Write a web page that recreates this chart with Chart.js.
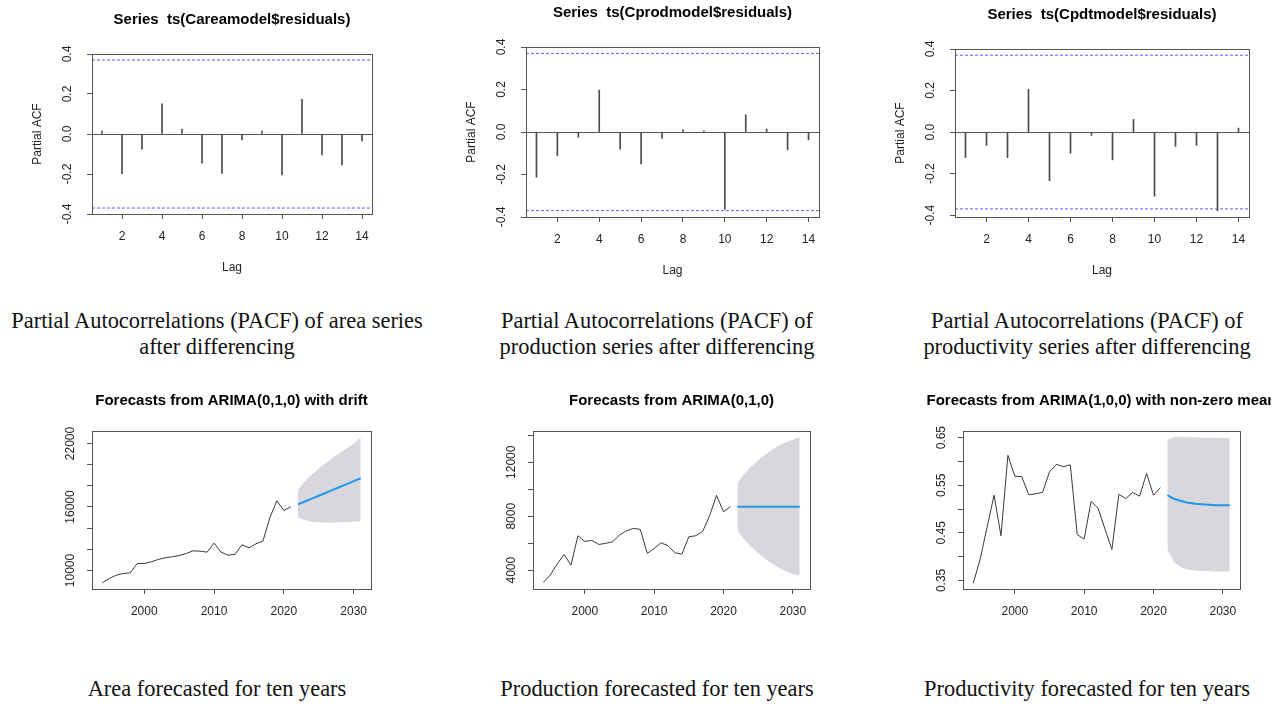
<!DOCTYPE html>
<html>
<head>
<meta charset="utf-8">
<script src="https://cdn.jsdelivr.net/npm/chart.js@4/dist/chart.umd.min.js"></script>
<style>
  html, body { margin: 0; padding: 0; background: #fff; width: 1281px; height: 706px; overflow: hidden; }
  canvas { position: absolute; }
  .cap { position: absolute; width: 430px; text-align: center; font-family: "Liberation Serif", serif;
         font-size: 22.4px; line-height: 26px; color: #111; white-space: nowrap; }
</style>
</head>
<body>
<canvas id="c1" width="430" height="290" style="left:0;top:0"></canvas>
<canvas id="c2" width="430" height="290" style="left:430px;top:0"></canvas>
<canvas id="c3" width="421" height="290" style="left:860px;top:0"></canvas>
<canvas id="c4" width="430" height="260" style="left:0;top:380px"></canvas>
<canvas id="c5" width="430" height="260" style="left:430px;top:380px"></canvas>
<canvas id="c6" width="411" height="260" style="left:860px;top:380px"></canvas>

<div class="cap" style="left:2px;top:308px">Partial Autocorrelations (PACF) of area series<br>after differencing</div>
<div class="cap" style="left:442px;top:308px">Partial Autocorrelations (PACF) of<br>production series after differencing</div>
<div class="cap" style="left:872px;top:308px">Partial Autocorrelations (PACF) of<br>productivity series after differencing</div>
<div class="cap" style="left:2px;top:676px">Area forecasted for ten years</div>
<div class="cap" style="left:442px;top:676px">Production forecasted for ten years</div>
<div class="cap" style="left:872px;top:676px">Productivity forecasted for ten years</div>

<script>
// lags and PACF values
const lags = [1, 2, 3, 4, 5, 6, 7, 8, 9, 10, 11, 12, 13, 14];
const pacfArea = [0.015, -0.198, -0.076, 0.151, 0.024, -0.146, -0.197, -0.030, 0.015, -0.205, 0.173, -0.104, -0.155, -0.034];
const pacfProd = [-0.213, -0.111, -0.025, 0.197, -0.080, -0.150, -0.030, 0.010, 0.005, -0.364, 0.081, 0.014, -0.084, -0.037];
const pacfPdt = [-0.123, -0.064, -0.123, 0.206, -0.234, -0.102, -0.016, -0.134, 0.061, -0.309, -0.069, -0.064, -0.379, 0.019];
const pacfBound = 0.370;
const lagTicks = [2, 4, 6, 8, 10, 12, 14];
const pacfTicks = [-0.4, -0.2, 0, 0.2, 0.4];

// observed series and ten-year forecasts
const histYears = [1994, 1995, 1996, 1997, 1998, 1999, 2000, 2001, 2002, 2003, 2004, 2005, 2006, 2007,
                   2008, 2009, 2010, 2011, 2012, 2013, 2014, 2015, 2016, 2017, 2018, 2019, 2020, 2021];
const fcYears = [2022, 2023, 2024, 2025, 2026, 2027, 2028, 2029, 2030, 2031];
const yearTicks = [2000, 2010, 2020, 2030];

const area = [8835, 9244, 9559, 9717, 9780, 10661, 10661, 10819, 11039, 11197, 11291, 11417, 11606, 11858,
              11827, 11732, 12583, 11732, 11449, 11512, 12425, 12142, 12520, 12772, 15008, 16583, 15669, 16016];
const areaMean = [16240, 16515, 16790, 17065, 17340, 17615, 17890, 18165, 18440, 18715];
const areaHi = [17590, 18420, 19080, 19640, 20150, 20640, 21100, 21550, 22000, 22600];
const areaLo = [15000, 14760, 14610, 14560, 14530, 14530, 14550, 14570, 14610, 14660];
const areaTicks = [10000, 12000, 14000, 16000, 18000, 20000, 22000];
const areaLabels = [10000, 16000, 22000];

const prod = [3084, 3628, 4446, 5164, 4372, 6551, 6130, 6204, 5907, 5981, 6105, 6601, 6923, 7096,
              7022, 5238, 5610, 6031, 5808, 5288, 5189, 6477, 6551, 6873, 8037, 9548, 8334, 8706];
const prodMean = [8706, 8706, 8706, 8706, 8706, 8706, 8706, 8706, 8706, 8706];
const prodHi = [10440, 11150, 11680, 12150, 12560, 12920, 13250, 13480, 13680, 13860];
const prodLo = [6970, 6260, 5730, 5260, 4850, 4490, 4160, 3930, 3730, 3570];
const prodTicks = [4000, 6000, 8000, 10000, 12000, 14000];
const prodLabels = [4000, 8000, 12000];

const pdt = [0.344, 0.395, 0.462, 0.529, 0.444, 0.613, 0.569, 0.568, 0.530, 0.532, 0.535, 0.578, 0.594, 0.589,
             0.593, 0.446, 0.437, 0.516, 0.502, 0.458, 0.415, 0.531, 0.522, 0.535, 0.527, 0.575, 0.529, 0.545];
const pdtMean = [0.529, 0.521, 0.517, 0.513, 0.511, 0.510, 0.509, 0.508, 0.508, 0.508];
const pdtHi = [0.645, 0.652, 0.652, 0.651, 0.651, 0.650, 0.650, 0.650, 0.649, 0.649];
const pdtLo = [0.415, 0.388, 0.377, 0.373, 0.371, 0.370, 0.370, 0.369, 0.369, 0.369];
const pdtTicks = [0.35, 0.40, 0.45, 0.50, 0.55, 0.60, 0.65];
const pdtLabels = [0.35, 0.45, 0.55, 0.65];

const FONT = '"Liberation Sans", Arial, sans-serif';
const AXIS = '#555';
const BLUE = '#2297E6';
const SHADE = '#D7D7DD';

Chart.defaults.font.family = FONT;
Chart.defaults.color = '#222';

// base-R look: box round the plot, bold title, rotated y labels, axis titles
const rStyle = {
  id: 'rStyle',
  afterDraw(chart, args, o) {
    const { ctx, chartArea: a } = chart;
    const ys = chart.scales.y;
    ctx.save();
    ctx.strokeStyle = AXIS;
    ctx.lineWidth = 1;
    ctx.strokeRect(Math.round(a.left) + 0.5, Math.round(a.top) + 0.5,
                   Math.round(a.right - a.left), Math.round(a.bottom - a.top));
    ctx.textAlign = 'center';
    ctx.textBaseline = 'middle';
    ctx.fillStyle = '#000';
    ctx.font = 'bold ' + o.titleSize + 'px ' + FONT;
    ctx.fillText(o.title, (a.left + a.right) / 2, a.top - o.titleGap);
    ctx.fillStyle = '#222';
    ctx.font = '12px ' + FONT;
    o.yLabels.forEach(v => {
      ctx.save();
      ctx.translate(a.left - o.yGap, ys.getPixelForValue(v));
      ctx.rotate(-Math.PI / 2);
      ctx.fillText(v.toFixed(o.digits), 0, 0);
      ctx.restore();
    });
    if (o.yTitle) {
      ctx.save();
      ctx.translate(a.left - 54, (a.top + a.bottom) / 2);
      ctx.rotate(-Math.PI / 2);
      ctx.fillText(o.yTitle, 0, 0);
      ctx.restore();
    }
    if (o.xTitle) ctx.fillText(o.xTitle, (a.left + a.right) / 2, a.bottom + 54);
    ctx.restore();
  }
};

function axes(box, w, h, xHeight, x, y) {
  return {
    layout: { padding: { left: box.l - 40, right: w - box.r, top: box.t, bottom: h - box.b - xHeight } },
    scales: {
      x: {
        type: 'linear', min: x.min, max: x.max, offset: false,
        afterBuildTicks: s => { s.ticks = x.ticks.map(v => ({ value: v })); },
        afterFit: s => { s.height = xHeight; },
        border: { display: false },
        grid: { drawOnChartArea: false, offset: false, tickLength: 5, tickColor: AXIS },
        ticks: { padding: 10, font: { size: 12 }, maxRotation: 0, autoSkip: false, callback: v => String(v) }
      },
      y: {
        min: y.min, max: y.max,
        afterBuildTicks: s => { s.ticks = y.ticks.map(v => ({ value: v })); },
        afterFit: s => { s.width = 40; },
        border: { display: false },
        grid: {
          drawOnChartArea: !!y.zero, tickLength: 5, tickColor: AXIS,
          color: c => (c.tick && c.tick.value === 0) ? AXIS : 'rgba(0,0,0,0)'
        },
        ticks: { display: false }
      }
    }
  };
}

function pacfChart(id, title, values, box, w, yMin, yMax) {
  const base = axes(box, w, 290, 60, { min: 0.5, max: 14.5, ticks: lagTicks },
                    { min: yMin, max: yMax, ticks: pacfTicks, zero: true });
  new Chart(document.getElementById(id), {
    type: 'bar',
    data: {
      datasets: [
        { type: 'bar', data: lags.map((l, i) => ({ x: l, y: values[i] })),
          backgroundColor: '#4a4a4a', barThickness: 1, borderWidth: 0 },
        { type: 'line', data: [{ x: 0.5, y: pacfBound }, { x: 14.5, y: pacfBound }],
          borderColor: '#5a5af5', borderWidth: 1, borderDash: [3, 2], pointRadius: 0 },
        { type: 'line', data: [{ x: 0.5, y: -pacfBound }, { x: 14.5, y: -pacfBound }],
          borderColor: '#5a5af5', borderWidth: 1, borderDash: [3, 2], pointRadius: 0 }
      ]
    },
    options: Object.assign(base, {
      responsive: false, animation: false,
      plugins: {
        legend: { display: false }, tooltip: { enabled: false },
        rStyle: { title: title, titleSize: 15, titleGap: 34, yLabels: pacfTicks, digits: 1, yGap: 24,
                  yTitle: 'Partial ACF', xTitle: 'Lag' }
      }
    }),
    plugins: [rStyle]
  });
}

function forecastChart(id, title, hist, mean, lo, hi, box, w, yMin, yMax, yTicks, yLabels, digits) {
  const base = axes(box, w, 260, 40, { min: 1992.52, max: 2032.48, ticks: yearTicks },
                    { min: yMin, max: yMax, ticks: yTicks, zero: false });
  const pts = (xs, ys) => xs.map((x, i) => ({ x: x, y: ys[i] }));
  new Chart(document.getElementById(id), {
    type: 'line',
    data: {
      datasets: [
        { data: pts(fcYears, mean), borderColor: BLUE, borderWidth: 2, order: 1 },
        { data: pts(histYears, hist), borderColor: '#3a3a3a', borderWidth: 1, order: 2 },
        { data: pts(fcYears, lo), borderWidth: 0, borderColor: 'rgba(0,0,0,0)', order: 3 },
        { data: pts(fcYears, hi), borderWidth: 0, borderColor: 'rgba(0,0,0,0)', order: 3,
          fill: '-1', backgroundColor: SHADE }
      ]
    },
    options: Object.assign(base, {
      responsive: false, animation: false,
      elements: { point: { radius: 0 }, line: { tension: 0 } },
      plugins: {
        legend: { display: false }, tooltip: { enabled: false },
        rStyle: { title: title, titleSize: 15, titleGap: 30, yLabels: yLabels, digits: digits, yGap: 21 }
      }
    }),
    plugins: [rStyle]
  });
}

pacfChart('c1', 'Series  ts(Careamodel$residuals)', pacfArea, { l: 92, r: 372, t: 54, b: 214 }, 430, -0.4, 0.4);
pacfChart('c2', 'Series  ts(Cprodmodel$residuals)', pacfProd, { l: 96, r: 389, t: 47, b: 217 }, 430, -0.4, 0.4);
pacfChart('c3', 'Series  ts(Cpdtmodel$residuals)', pacfPdt, { l: 95, r: 389, t: 49, b: 217 }, 421, -0.409, 0.4);

forecastChart('c4', 'Forecasts from ARIMA(0,1,0) with drift', area, areaMean, areaLo, areaHi,
              { l: 92, r: 371, t: 51, b: 209 }, 430, 8250, 23180, areaTicks, areaLabels, 0);
forecastChart('c5', 'Forecasts from ARIMA(0,1,0)', prod, prodMean, prodLo, prodHi,
              { l: 103, r: 380, t: 51, b: 209 }, 430, 2600, 14320, prodTicks, prodLabels, 0);
forecastChart('c6', 'Forecasts from ARIMA(1,0,0) with non-zero mean', pdt, pdtMean, pdtLo, pdtHi,
              { l: 103, r: 380, t: 51, b: 209 }, 411, 0.332, 0.664, pdtTicks, pdtLabels, 2);
</script>
</body>
</html>
